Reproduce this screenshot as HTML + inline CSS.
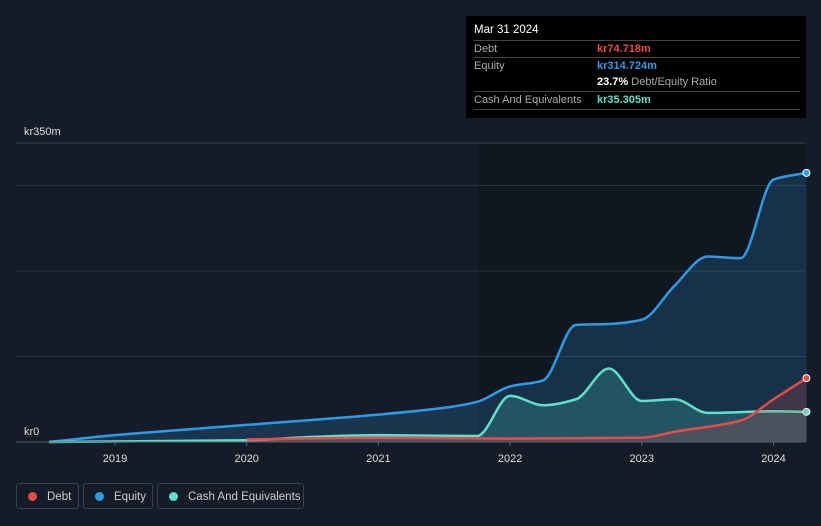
<!DOCTYPE html>
<html><head><meta charset="utf-8"><style>
body{margin:0;background:#161c27;font-family:"Liberation Sans",sans-serif;}
#wrap{position:relative;width:821px;height:526px;overflow:hidden;}
.tt{position:absolute;left:466px;top:16px;width:340px;height:102px;background:#000;color:#fff;font-size:11px;}
.row{position:absolute;left:8px;right:6px;border-top:1px solid #444;height:17px;line-height:17px;color:#aaa;}
.lg{position:absolute;top:483px;height:26px;border:1px solid #3c424d;border-radius:3px;color:#ccc;font-size:11.5px;line-height:26px;box-sizing:border-box;}
.dot{display:inline-block;width:9px;height:9px;border-radius:50%;margin:0 10px 0 11px;vertical-align:-1px;}
</style></head><body><div id="wrap">
<svg id="svg" width="821" height="526" style="position:absolute;left:0;top:0"></svg>
<div class="tt">
<div style="position:absolute;left:8px;top:8px;font-size:11.5px">Mar 31 2024</div>
<div class="row" style="top:24px">Debt<span style="position:absolute;left:123px;color:#e84a4a;font-weight:bold">kr74.718m</span></div>
<div class="row" style="top:41px">Equity<span style="position:absolute;left:123px;color:#2e9ae6;font-weight:bold">kr314.724m</span></div>
<div class="row" style="top:58px;border-top:none"><span style="position:absolute;left:123px"><b style="color:#fff">23.7%</b> Debt/Equity Ratio</span></div>
<div class="row" style="top:75px;border-bottom:1px solid #444">Cash And Equivalents<span style="position:absolute;left:123px;color:#5ee0cd;font-weight:bold">kr35.305m</span></div>
</div>
<div class="lg" style="left:16px;width:63px"><span class="dot" style="background:#e84a4a;margin-left:11px"></span>Debt</div>
<div class="lg" style="left:83px;width:70px"><span class="dot" style="background:#2e9ae6"></span>Equity</div>
<div class="lg" style="left:157px;width:147px"><span class="dot" style="background:#5ee0cd"></span>Cash And Equivalents</div>
</div>
<script>
const years=[2019,2020,2021,2022,2023,2024];
const eqT=[2018.5,2019,2020,2021,2021.5,2021.75,2022,2022.25,2022.5,2022.75,2023,2023.25,2023.5,2023.75,2024,2024.25];
const eqV=[0,8,20,32,40,47,65,72,137,138,143,183,217,215,307,314.7];
const caT=[2018.5,2020,2020.5,2021,2021.75,2022,2022.25,2022.5,2022.75,2023,2023.25,2023.5,2024,2024.25];
const caV=[0,2,6,8,7,54,43,50,86,48,50,34,36,35.3];
const deT=[2020,2021,2022,2023,2023.25,2023.75,2024,2024.25];
const deV=[3,5,4,5,12,25,50,74.7];
const NS='http://www.w3.org/2000/svg',svg=document.getElementById('svg');
const X=t=>115+(t-2019)*131.7, Y=v=>442-v*0.855;
function el(tag,a,name){const e=document.createElementNS(NS,tag);for(const k in a)e.setAttribute(k,a[k]);


svg.appendChild(e);return e;}
el('rect',{x:478,y:143,width:327,height:299,fill:'#111721'},'recent-shade');
[100,200,300].forEach(v=>el('line',{x1:16,x2:805,y1:Y(v),y2:Y(v),stroke:'#2a303b'},'gridline'));
el('line',{x1:16,x2:805,y1:143,y2:143,stroke:'#3a404b'},'top-gridline');
function path(T,V){const p=T.map((t,i)=>[X(t),Y(V[i])]);const n=p.length;const m=[];
const d=[];for(let i=0;i<n-1;i++)d.push((p[i+1][1]-p[i][1])/(p[i+1][0]-p[i][0]));
for(let i=0;i<n;i++){if(i==0)m.push(d[0]);else if(i==n-1)m.push(d[n-2]);else m.push(d[i-1]*d[i]<=0?0:2/(1/d[i-1]+1/d[i]));}
let s='M'+p[0][0]+','+p[0][1];
for(let i=0;i<n-1;i++){const h=(p[i+1][0]-p[i][0])/3;s+=`C${p[i][0]+h},${p[i][1]+m[i]*h} ${p[i+1][0]-h},${p[i+1][1]-m[i+1]*h} ${p[i+1][0]},${p[i+1][1]}`;}
return {s,p};}
function series(T,V,c,fo,name){const r=path(T,V);const a=r.p[0][0],b=r.p[r.p.length-1][0];
el('path',{d:r.s+`L${b},442L${a},442Z`,fill:c,'fill-opacity':fo},name+'-area');
el('path',{d:r.s,fill:'none',stroke:c,'stroke-width':2.5},name+'-line');
const l=r.p[r.p.length-1];el('circle',{cx:l[0],cy:l[1],r:3.5,fill:c,stroke:'#fff','stroke-width':1},name+'-end-dot');}
series(eqT,eqV,'#2e9ae6',0.2,'equity');
series(caT,caV,'#5ee0cd',0.2,'cash');
series(deT,deV,'#e84a4a',0.2,'debt');
el('line',{x1:16,x2:805,y1:442,y2:442,stroke:'#5a606b'},'x-axis');
years.forEach(y=>{el('line',{x1:X(y),x2:X(y),y1:442,y2:446,stroke:'#5a606b'},'x-tick');
const t=el('text',{x:X(y),y:462,fill:'#ddd','font-size':11,'text-anchor':'middle'},'x-tick-label');t.textContent=y;});
let t=el('text',{x:24,y:135,fill:'#ddd','font-size':11},'y-label-max');t.textContent='kr350m';
t=el('text',{x:24,y:435,fill:'#ddd','font-size':11},'y-label-zero');t.textContent='kr0';
</script></body></html>
